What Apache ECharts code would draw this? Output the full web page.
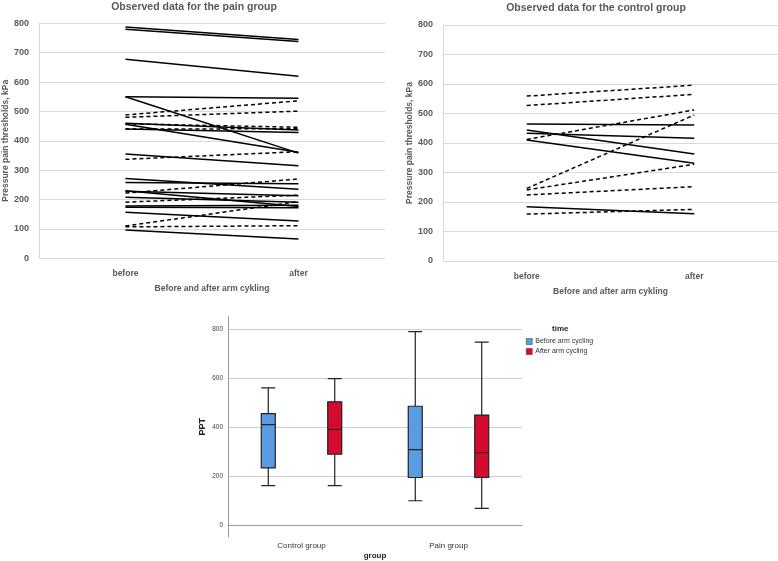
<!DOCTYPE html>
<html lang="en">
  <head>
    <meta charset="UTF-8" />
    <title>Pressure pain thresholds before and after arm cycling</title>
    <script src="https://cdn.jsdelivr.net/npm/echarts@6/dist/echarts.min.js"></script>
    <style>
      html, body { margin: 0; padding: 0; background: #fff; }
      #main { width: 778px; height: 561px; }
    </style>
  </head>
  <body>
    <div id="main"></div>
    <script>
      const times = ['before', 'after'];

      // pain group, one line per subject
      const painSolidBefore = [787, 780, 678, 550, 550, 460, 456, 440, 355, 272, 258, 230, 228, 208, 178, 174, 157, 96];
      const painSolidAfter = [745, 738, 620, 545, 358, 437, 361, 428, 315, 235, 254, 176, 213, 191, 181, 172, 127, 66];
      const painDashedBefore = [488, 480, 458, 440, 337, 222, 191, 110, 107];
      const painDashedAfter = [536, 501, 446, 441, 363, 270, 215, 193, 111];

      // control group
      const ctrlSolidBefore = [464, 444, 433, 410, 184];
      const ctrlSolidAfter = [461, 363, 416, 331, 160];
      const ctrlDashedBefore = [559, 527, 412, 246, 241, 224, 159];
      const ctrlDashedAfter = [596, 565, 512, 495, 328, 252, 175];

      // box plot: [min, Q1, median, Q3, max]
      const boxGroups = ['Control group', 'Pain group'];
      const beforeBox = [[160, 232, 409, 454, 559], [98, 193, 307, 484, 789]];
      const afterBox = [[160, 288, 389, 502, 597], [67, 193, 294, 448, 746]];

      const grey = '#595959';
      const blue = '#5a9be2';
      const red = '#d30b2f';
      const font = 'Liberation Sans, Arial, sans-serif';

      function pairLines(before, after, dashed, idx) {
        return before.map(function (b, i) {
          return {
            type: 'line',
            xAxisIndex: idx,
            yAxisIndex: idx,
            data: [b, after[i]],
            symbol: 'none',
            silent: true,
            lineStyle: { color: '#000', width: 1.5, type: dashed ? [4, 3] : 'solid' }
          };
        });
      }

      function lineX(idx) {
        return {
          type: 'category',
          gridIndex: idx,
          data: times,
          boundaryGap: true,
          axisLine: { show: false },
          axisTick: { show: false },
          axisLabel: { color: grey, fontWeight: 'bold', fontSize: 8.5, margin: 11 },
          name: 'Before and after arm cykling',
          nameLocation: 'middle',
          nameGap: 26,
          nameTextStyle: { color: grey, fontWeight: 'bold', fontSize: 8.5 }
        };
      }

      function lineY(idx, gap) {
        return {
          type: 'value',
          gridIndex: idx,
          min: 0,
          max: 800,
          interval: 100,
          axisLine: { show: true, lineStyle: { color: '#d9d9d9' } },
          axisTick: { show: false },
          splitLine: { lineStyle: { color: '#d9d9d9' } },
          axisLabel: { color: grey, fontWeight: 'bold', fontSize: 9, margin: 10 },
          name: 'Pressure pain thresholds, kPa',
          nameLocation: 'middle',
          nameGap: gap,
          nameTextStyle: { color: grey, fontWeight: 'bold', fontSize: 8.5 }
        };
      }

      const chart = echarts.init(document.getElementById('main'));

      const option = {
        animation: false,
        textStyle: { fontFamily: font },
        title: [
          {
            text: 'Observed data for the pain group',
            left: 189, top: -3, textAlign: 'center',
            textStyle: { color: grey, fontWeight: 'bold', fontSize: 10.5 }
          },
          {
            text: 'Observed data for the control group',
            left: 591, top: -2, textAlign: 'center',
            textStyle: { color: grey, fontWeight: 'bold', fontSize: 10.5 }
          },
          {
            text: 'time',
            left: 547, top: 320,
            textStyle: { color: '#222', fontWeight: 'bold', fontSize: 8 }
          }
        ],
        legend: {
          orient: 'vertical',
          left: 521,
          top: 333,
          itemWidth: 6,
          itemHeight: 6,
          itemGap: 3,
          icon: 'rect',
          textStyle: { fontSize: 7, color: '#333', padding: [0, 0, 0, -2] },
          data: [
            { name: 'Before arm cycling', itemStyle: { color: blue, borderColor: '#333', borderWidth: 0.5 } },
            { name: 'After arm cycling', itemStyle: { color: red, borderColor: '#333', borderWidth: 0.5 } }
          ]
        },
        grid: [
          { left: 37, top: 23.3, width: 348, height: 235 },
          { left: 443, top: 25, width: 335, height: 236 },
          { left: 228, top: 316.6, width: 294, height: 222.8 }
        ],
        xAxis: [
          lineX(0),
          lineX(1),
          {
            type: 'category',
            gridIndex: 2,
            data: boxGroups,
            axisLine: { lineStyle: { color: '#999' } },
            axisTick: { show: false },
            axisLabel: { color: '#333', fontSize: 8, margin: 5 },
            name: 'group',
            nameLocation: 'middle',
            nameGap: 15,
            nameTextStyle: { color: '#222', fontWeight: 'bold', fontSize: 8 }
          }
        ],
        yAxis: [
          lineY(0, 27),
          lineY(1, 28),
          {
            type: 'value',
            gridIndex: 2,
            min: -50,
            max: 850,
            interval: 50,
            axisLine: { show: true, lineStyle: { color: '#999' } },
            axisTick: { show: false },
            splitLine: { show: false },
            axisLabel: {
              color: '#444', fontSize: 6.5, margin: 5,
              formatter: function (v) { return v >= 0 && v <= 800 && v % 200 === 0 ? String(v) : ''; }
            },
            name: 'PPT',
            nameLocation: 'middle',
            nameGap: 21,
            nameTextStyle: { color: '#222', fontWeight: 'bold', fontSize: 9 }
          }
        ],
        series: [].concat(
          pairLines(painSolidBefore, painSolidAfter, false, 0),
          pairLines(painDashedBefore, painDashedAfter, true, 0),
          pairLines(ctrlSolidBefore, ctrlSolidAfter, false, 1),
          pairLines(ctrlDashedBefore, ctrlDashedAfter, true, 1),
          [
            {
              type: 'line',
              xAxisIndex: 2,
              yAxisIndex: 2,
              data: [],
              silent: true,
              z: 0,
              markLine: {
                symbol: 'none',
                silent: true,
                z: 0,
                label: { show: false },
                lineStyle: { color: '#cfcfcf', type: 'solid', width: 1 },
                data: [{ yAxis: 0 }, { yAxis: 200 }, { yAxis: 400 }, { yAxis: 600 }, { yAxis: 800 }]
              }
            },
            {
              name: 'Before arm cycling',
              type: 'boxplot',
              xAxisIndex: 2,
              yAxisIndex: 2,
              z: 5,
              boxWidth: [14, 14],
              data: beforeBox,
              itemStyle: { color: blue, borderColor: '#222', borderWidth: 1.2 }
            },
            {
              name: 'After arm cycling',
              type: 'boxplot',
              xAxisIndex: 2,
              yAxisIndex: 2,
              z: 5,
              boxWidth: [14, 14],
              data: afterBox,
              itemStyle: { color: red, borderColor: '#222', borderWidth: 1.2 }
            }
          ]
        )
      };

      chart.setOption(option);
    </script>
  </body>
</html>
